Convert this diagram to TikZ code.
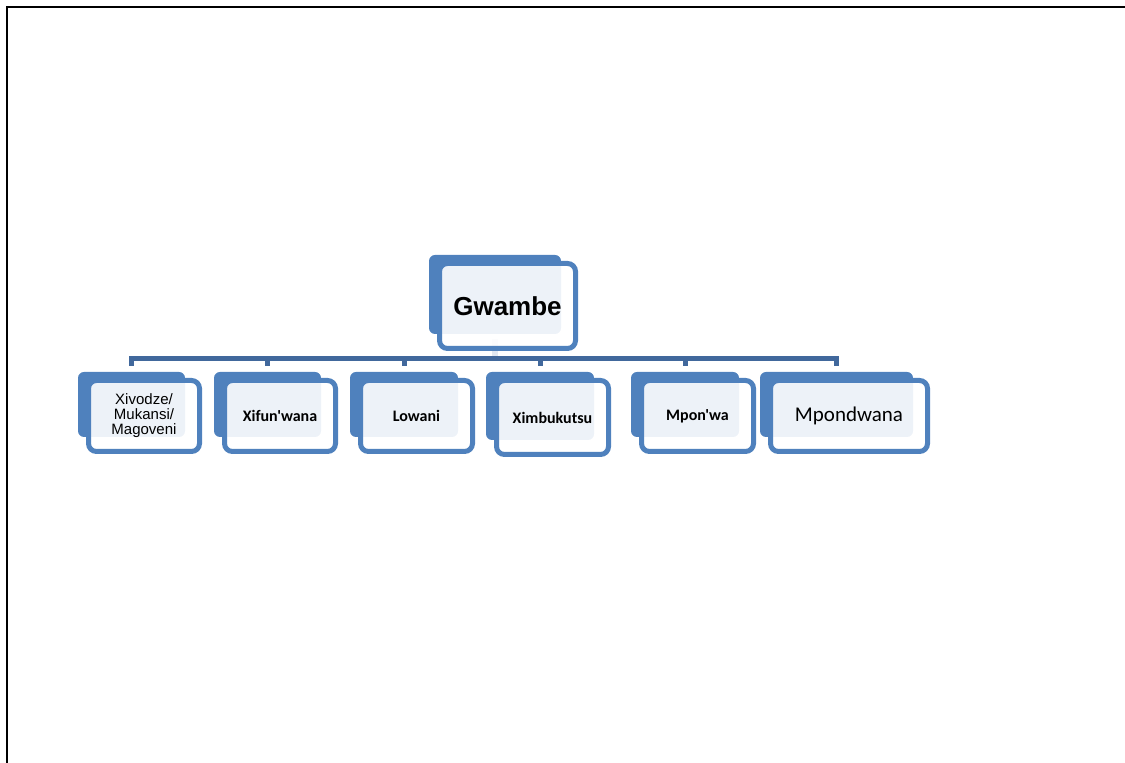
\documentclass[tikz,border=0pt]{standalone}
\usepackage{fontspec}
\setmainfont{Liberation Sans}
\newfontfamily\calibri{Carlito}
\usetikzlibrary{backgrounds,fit}
\definecolor{boxblue}{HTML}{4F81BD}
\definecolor{linkblue}{HTML}{41689C}
\definecolor{stubgrey}{HTML}{E2E8F1}

\begin{document}
\begin{tikzpicture}[x=1pt,y=1pt,
    frontbox/.style={draw=boxblue,line width=5pt,fill=white,fill opacity=0.9,text opacity=1,
                     rounded corners=8pt,outer sep=0pt,inner sep=2pt,align=center,
                     minimum width=111pt,minimum height=71pt},
    backbox/.style={fill=boxblue,rounded corners=6pt,inner sep=0pt,outer sep=0pt},
    namebold/.style={font=\calibri\bfseries\fontsize{16}{18}\selectfont},
    link/.style={draw=linkblue,line width=5pt},
    stub/.style={draw=stubgrey,line width=6pt},
    frame/.style={draw=black,line width=2pt}]
  \useasboundingbox (0,0) rectangle (1125,763);
  \draw[frame] (7,0) -- (7,756) -- (1125,756);
  % front boxes
  \node[frontbox,minimum width=136pt,minimum height=85pt,
        font=\bfseries\fontsize{26}{30}\selectfont] (fr) at (507.5,457) {Gwambe};
  \node[frontbox,font=\fontsize{15}{15}\selectfont] (f1) at (144,347) {Xivodze/\\Mukansi/\\Magoveni};
  \node[frontbox,namebold] (f2) at (280,347)   {Xifun'wana};
  \node[frontbox,namebold,minimum width=112pt] (f3) at (416.5,347) {Lowani};
  \node[frontbox,namebold,minimum width=112pt,minimum height=74pt] (f4) at (552.5,345.5) {Ximbukutsu};
  \node[frontbox,namebold,minimum width=112pt] (f5) at (697.5,347) {Mpon'wa};
  \node[frontbox,minimum width=157pt,font=\calibri\fontsize{21}{24}\selectfont] (f6) at (849,347) {Mpondwana};
  % back boxes and links
  \begin{scope}[on background layer]
    \foreach \i in {fr,f1,f2,f3,f4,f5,f6}
      \node[backbox,fit={([xshift=-10.5pt,yshift=8.5pt]\i.north west)
                         ([xshift=-14.5pt,yshift=14.5pt]\i.south east)}] (b\i) {};
    \coordinate (bar) at (0,404.5);
    \draw[stub] ([yshift=-5pt]bfr.south) -- (bfr.south |- bar);
    \draw[link] ([yshift=6pt]bf1.north) -- (bf1.north |- bar) -- (bf6.north |- bar) -- ([yshift=6pt]bf6.north);
    \foreach \i in {bf2,bf3,bf4,bf5}
      \draw[link] (\i.north |- bar) -- ([yshift=6pt]\i.north);
  \end{scope}
\end{tikzpicture}
\end{document}
